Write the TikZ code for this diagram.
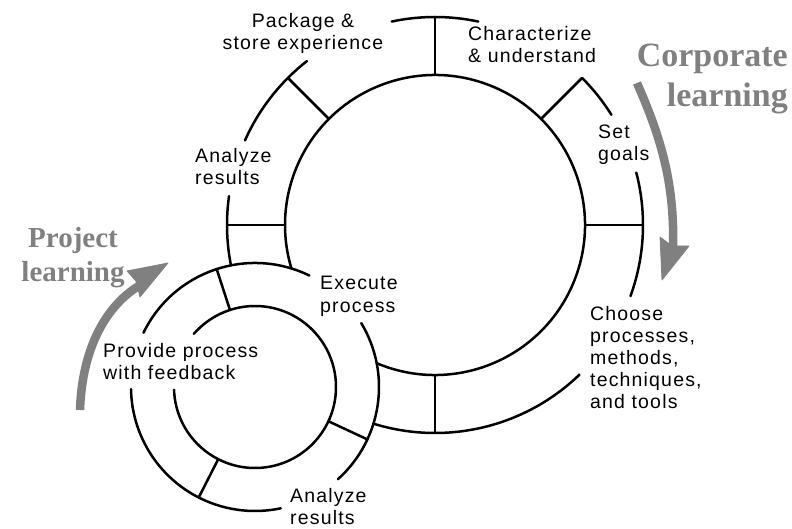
\documentclass[tikz,border=0pt]{standalone}
\usepackage{fontspec}
\setmainfont{Liberation Sans}[LetterSpace=6]
\newfontfamily\learnfont{Liberation Serif}
\definecolor{learngray}{RGB}{128,128,128}

\begin{document}
\begin{tikzpicture}[x=1pt, y=1pt,
  ring/.style={line width=2.5pt, line cap=round},
  label/.style={inner sep=0pt, align=left, font=\fontsize{19.5}{22}\selectfont},
  learn/.style={inner sep=0pt, text=learngray},
  flow/.style={draw=learngray, line width=8.5pt},
  flowhead/.style={fill=learngray, draw=learngray, line width=0.8pt, line join=round}
]
\useasboundingbox (0,0) rectangle (792,-529);

% centres of the two cycles
\coordinate (B) at (435,-225);
\coordinate (S) at (255,-387);

% ---- corporate cycle: inner circle, cut where the project cycle sits
\draw[ring] ([shift={(B)}]-112.9:150) arc[start angle=-112.9, end angle=196.9, radius=150];

% outer ring pieces
\draw[ring] ([shift={(B)}]78:208)    arc[start angle=78,    end angle=102,   radius=208];
\draw[ring] ([shift={(B)}]32:208)    arc[start angle=32,    end angle=45,    radius=208];
\draw[ring] ([shift={(B)}]-20:208)   arc[start angle=-20,   end angle=14.6,  radius=208];
\draw[ring] ([shift={(B)}]-107.2:208) arc[start angle=-107.2, end angle=-46, radius=208];
\draw[ring] ([shift={(B)}]128:208)   arc[start angle=128,   end angle=156,   radius=208];
\draw[ring] ([shift={(B)}]172:208)   arc[start angle=172,   end angle=191.2, radius=208];

% spokes between the rings
\foreach \a in {90,45,0,-90,135,180}
  \draw[ring] ([shift={(B)}]\a:150) -- ([shift={(B)}]\a:208);

% ---- project cycle
\draw[ring] ([shift={(S)}]64:124)  arc[start angle=64,  end angle=154, radius=124];
\draw[ring] ([shift={(S)}]-48:124) arc[start angle=-48, end angle=31,  radius=124];
\draw[ring] ([shift={(S)}]181:124) arc[start angle=181, end angle=282, radius=124];
\draw[ring] ([shift={(S)}]-178:81) arc[start angle=-178, end angle=139, radius=81];
\foreach \a in {108,-25,243}
  \draw[ring] ([shift={(S)}]\a:81) -- ([shift={(S)}]\a:124);

% ---- stage labels (base anchor sits on the last line)
\node[label, align=center, anchor=base] (pkg) at (303,-50) {Package \&\\store experience};
\node[label, anchor=base west] (char) at (468,-63) {Characterize\\\& understand};
\node[label, anchor=base west] (goals) at (598,-161) {Set\\goals};
\node[label, anchor=base west] (anlzup) at (195,-185) {Analyze\\results};
\node[label, anchor=base west] (exec) at (320,-312) {Execute\\process};
\node[label, anchor=base west] (feedback) at (103,-379) {Provide process\\with feedback};
\node[label, anchor=base west] (anlzlow) at (290,-524) {Analyze\\results};
\node[label, anchor=base west] (choose) at (590,-408) {Choose\\processes,\\methods,\\techniques,\\and tools};

% ---- learning loops
\node[learn, align=right, anchor=base east, font=\learnfont\bfseries\fontsize{34}{40}\selectfont] (corp) at (788,-107) {Corporate\\learning};
\node[learn, align=center, anchor=base, font=\learnfont\bfseries\fontsize{29}{34}\selectfont] (proj) at (73,-282) {Project\\learning};

% corporate loop: curved shaft and its head
\coordinate (corpstart) at (637,-83);
\coordinate (corpend) at (673,-252);
\draw[flow] (corpstart) .. controls (662,-140) and (675,-185) .. (corpend);
\fill[flowhead] (660,-237) -- (672,-246) -- (689,-246) -- (662,-280) -- cycle;

% project loop: curved shaft and its head
\coordinate (projstart) at (80,-410);
\coordinate (projend) at (142,-284);
\draw[flow] (projstart) .. controls (82,-350) and (105,-305) .. (projend);
\fill[flowhead] (127,-271) -- (136,-281) -- (140,-297) -- (168,-263) -- cycle;
\end{tikzpicture}
\end{document}
